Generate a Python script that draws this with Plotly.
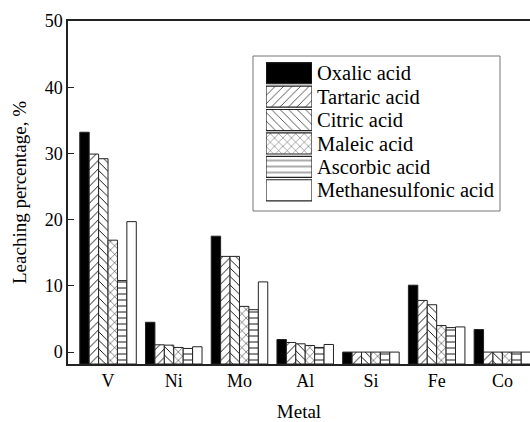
import plotly.graph_objects as go

metals = ["V", "Ni", "Mo", "Al", "Si", "Fe", "Co"]
acids = ["Oxalic acid", "Tartaric acid", "Citric acid", "Maleic acid",
         "Ascorbic acid", "Methanesulfonic acid"]
oxalic = [33.2, 4.5, 17.5, 1.9, 0.0, 10.1, 3.4]
tartaric = [29.9, 1.1, 14.45, 1.45, 0.0, 7.8, 0.0]
citric = [29.2, 1.05, 14.45, 1.25, 0.0, 7.15, 0.0]
maleic = [16.9, 0.7, 6.9, 1.0, 0.0, 4.0, 0.0]
ascorbic = [10.8, 0.55, 6.4, 0.7, 0.0, 3.7, 0.0]
methanesulfonic = [19.7, 0.8, 10.6, 1.15, 0.0, 3.8, 0.0]
series = [oxalic, tartaric, citric, maleic, ascorbic, methanesulfonic]
y_ticks = [0, 10, 20, 30, 40, 50]

YMIN = -1.8
FONT = "Liberation Serif"
fills = ["black", "white", "white", "white", "white", "white"]
shapes = ["", "/", "\\", "x", "-", ""]
LINE = "#222222"

fig = go.Figure()
for name, vals, fc, sh in zip(acids, series, fills, shapes):
    fig.add_trace(go.Bar(
        x=metals, y=[v - YMIN for v in vals], base=YMIN, name=name,
        marker=dict(color=fc, line=dict(color=LINE, width=1),
                    pattern=dict(shape=sh, fgcolor="black", bgcolor="white",
                                 fgopacity=1, size=6, solidity=0.15)),
        showlegend=False, xaxis="x", yaxis="y"))

# legend-like key drawn in an inset axis
fig.add_trace(go.Bar(
    y=acids, x=[1] * len(acids), orientation="h",
    marker=dict(color=fills, line=dict(color=LINE, width=1.2),
                pattern=dict(shape=shapes, fgcolor="black", bgcolor="white",
                             fgopacity=1, size=6, solidity=0.15)),
    showlegend=False, xaxis="x2", yaxis="y2", width=0.9))

L, T, B, W, H = 68, 21, 58, 530, 422
pw = W - L
ph = H - T - B

def px(x):
    return (x - L) / pw

def py(y):
    return (H - B - y) / ph

fig.update_layout(
    width=W, height=H,
    margin=dict(l=L, r=0, t=T, b=B, autoexpand=False),
    paper_bgcolor="white", plot_bgcolor="white",
    barmode="group", bargap=0.14, bargroupgap=0,
    font=dict(family=FONT, size=18, color="black"),
    xaxis=dict(domain=[0, 1], range=[-0.609, 6.42], showline=True,
               linecolor=LINE, linewidth=1.5, mirror=True, ticks="",
               showgrid=False, zeroline=False, automargin=False,
               tickfont=dict(size=18),
               title=dict(text="Metal", font=dict(size=19), standoff=14)),
    yaxis=dict(domain=[0, 1], range=[YMIN, 50], tickvals=y_ticks,
               showline=True, linecolor=LINE, linewidth=1.5, mirror=False,
               ticks="inside", ticklen=6, tickcolor=LINE, showgrid=False,
               zeroline=False, automargin=False, tickfont=dict(size=18),
               title=dict(text="Leaching percentage, %", font=dict(size=19),
                          standoff=13)),
    xaxis2=dict(domain=[px(266), px(312)], range=[0, 1], visible=False,
                anchor="y2", fixedrange=True),
    yaxis2=dict(domain=[py(202), py(61.5)], anchor="x2", side="right",
                type="category", categoryorder="array", categoryarray=acids,
                tickmode="array", tickvals=acids, ticktext=acids,
                autorange="reversed", showline=False, ticks="", showgrid=False,
                zeroline=False, automargin=False, tickfont=dict(size=20.5),
                ticklabelstandoff=4, fixedrange=True),
    shapes=[dict(type="rect", xref="paper", yref="paper",
                 x0=px(253), x1=px(500), y0=py(211), y1=py(56),
                 line=dict(color="#777777", width=1), fillcolor="rgba(0,0,0,0)",
                 layer="below")],
)

fig.write_html("out.html", config={"displayModeBar": False},
               post_script="document.body.style.margin='0';"
                           "document.body.style.padding='0';")
